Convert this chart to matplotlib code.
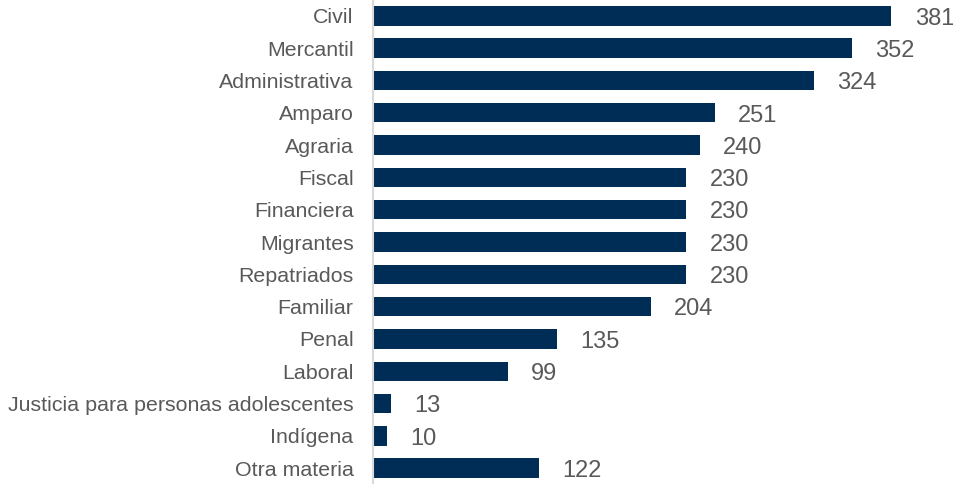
import matplotlib.pyplot as plt

materias = ["Civil", "Mercantil", "Administrativa", "Amparo", "Agraria", "Fiscal",
            "Financiera", "Migrantes", "Repatriados", "Familiar", "Penal", "Laboral",
            "Justicia para personas adolescentes", "Indígena", "Otra materia"]
valores = [381, 352, 324, 251, 240, 230, 230, 230, 230, 204, 135, 99, 13, 10, 122]

plt.rcParams['font.family'] = ['Liberation Sans', 'DejaVu Sans']

fig = plt.figure(figsize=(9.54, 4.84), dpi=100)
ax = fig.add_axes([373 / 954, 0, (954 - 373) / 954, 1])

pos = list(range(len(materias)))
ax.barh(pos, valores, height=0.6, color="#002D56")
ax.set_xlim(0, 427)
ax.set_ylim(14.49, -0.49)

for p, v in zip(pos, valores):
    ax.annotate(str(v), (v, p), xytext=(17, -2), textcoords="offset points",
                va="center", ha="left", fontsize=17, color="#595959")

ax.set_yticks(pos)
ax.set_yticklabels(materias, fontsize=15.4, color="#595959")
ax.tick_params(axis="y", length=0, pad=14)
ax.set_xticks([])
for s in ["top", "right", "bottom"]:
    ax.spines[s].set_visible(False)
ax.spines["left"].set_color("#D9D9D9")
ax.spines["left"].set_linewidth(1.5)

fig.savefig("out.png", dpi=100)
